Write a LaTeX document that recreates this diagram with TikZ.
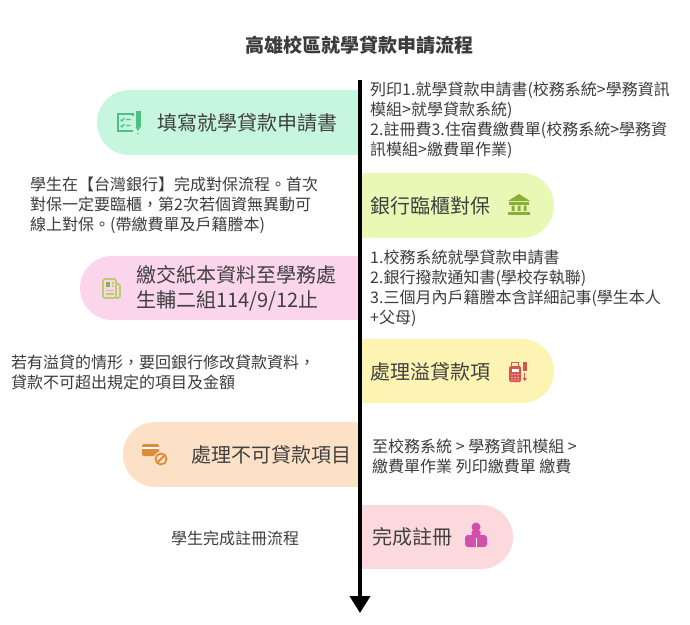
\documentclass[tikz,border=0pt]{standalone}
\usepackage{fontspec}
\setmainfont{Noto Sans CJK TC}
\usetikzlibrary{arrows.meta}
\definecolor{txtc}{HTML}{3C3C3C}
\definecolor{boxtxt}{HTML}{404040}
\definecolor{cgreen}{HTML}{C7F6DE}
\definecolor{cbank}{HTML}{EAF8B6}
\definecolor{cpink}{HTML}{FAD5EC}
\definecolor{cyellow}{HTML}{FDF4B3}
\definecolor{corange}{HTML}{FDE1C6}
\definecolor{cfinal}{HTML}{FCD9DC}
\definecolor{igreen}{HTML}{4FBF83}
\definecolor{ibank}{HTML}{8AAE38}
\definecolor{ipaper}{HTML}{B9D068}
\definecolor{ipaperdark}{HTML}{7FB543}
\definecolor{ired}{HTML}{D9534F}
\definecolor{iorange}{HTML}{E08A3B}
\definecolor{imag}{HTML}{D24FAD}
\begin{document}
\begin{tikzpicture}[x=1pt,y=-1pt,
  smalltext/.style={font=\fontsize{16pt}{20pt}\selectfont, text=txtc, align=left, inner sep=0pt, anchor=west},
  boxtext/.style={font=\fontsize{20pt}{25pt}\selectfont, text=boxtxt, align=left, inner sep=0pt, anchor=west},
  flowarrow/.style={line width=4pt, -{Triangle[width=20pt,length=17pt]}}]
\fill[white] (0,0) rectangle (690,624);
\useasboundingbox (0,0) rectangle (690,624);

% title
\node[font=\bfseries\fontsize{19pt}{22pt}\selectfont, text=txtc] (title) at (359,45) {高雄校區就學貸款申請流程};

% ---- half pills (left side) ----
\fill[cgreen] (129.5,122.5) circle (32.5pt);
\fill[cgreen] (129.5,90) rectangle (360,155);
\fill[cpink] (112,288) circle (32pt);
\fill[cpink] (112,256) rectangle (360,320);
\fill[corange] (155.5,454.5) circle (32.5pt);
\fill[corange] (155.5,422) rectangle (360,487);
% ---- half pills (right side) ----
\fill[cbank] (521.5,205.5) circle (32.5pt);
\fill[cbank] (360,173) rectangle (521.5,238);
\fill[cyellow] (522,371) circle (32pt);
\fill[cyellow] (360,339) rectangle (522,403);
\fill[cfinal] (481,537) circle (32pt);
\fill[cfinal] (360,505) rectangle (481,569);

% ---- box texts ----
\node[boxtext] (s1) at (157,123) {填寫就學貸款申請書};
\node[boxtext] (s2) at (370,206) {銀行臨櫃對保};
\node[boxtext] (s3) at (136,288) {繳交紙本資料至學務處\\生輔二組114/9/12止};
\node[boxtext] (s4) at (370,372) {處理溢貸款項};
\node[boxtext] (s5) at (191,455) {處理不可貸款項目};
\node[boxtext] (s6) at (372,537) {完成註冊};

% ---- notes ----
\node[smalltext] (n1) at (370,120) {列印1.就學貸款申請書(校務系統>學務資訊\\模組>就學貸款系統)\\2.註冊費3.住宿費繳費單(校務系統>學務資\\訊模組>繳費單作業)};
\node[smalltext] (n2) at (30,205) {學生在【台灣銀行】完成對保流程。首次\\對保一定要臨櫃，第2次若個資無異動可\\線上對保。(帶繳費單及戶籍謄本)};
\node[smalltext] (n3) at (370,288) {1.校務系統就學貸款申請書\\2.銀行撥款通知書(學校存執聯)\\3.三個月內戶籍謄本含詳細記事(學生本人\\+父母)};
\node[smalltext] (n4) at (11,372) {若有溢貸的情形，要回銀行修改貸款資料，\\貸款不可超出規定的項目及金額};
\node[smalltext] (n5) at (372,456) {至校務系統 > 學務資訊模組 >\\繳費單作業 列印繳費單 繳費};
\node[smalltext] (n6) at (171,538) {學生完成註冊流程};

% ---- icons ----
% checklist
\draw[igreen, line width=1.5pt] (133,116) -- (133,114) -- (118,114) -- (118,131) -- (133,131);
\draw[igreen, line width=1.2pt] (120.5,119.5) -- (122,121) -- (124.5,118) (126,119.5) -- (130.5,119.5)
  (120.5,125.5) -- (122,127) -- (124.5,124) (126,125.5) -- (130.5,125.5);
\fill[igreen] (135.5,111) rectangle (140.5,127);
\fill[igreen] (135.5,127) -- (140.5,127) -- (138,131) -- cycle;
\fill[igreen] (138,133.5) circle (0.9pt);
% bank
\fill[ibank] (508,201) -- (519,194) -- (530,201) -- cycle;
\fill[ibank] (509,202) rectangle (529,204.5);
\fill[ibank] (511.5,205.5) rectangle (514.5,211) (517.5,205.5) rectangle (520.5,211) (523.5,205.5) rectangle (526.5,211);
\fill[ibank] (508,212) rectangle (530,215);
% newspaper
\draw[ipaper, line width=1.6pt, rounded corners=1.5pt] (103,279) rectangle (116,298);
\draw[ipaper, line width=1.6pt, rounded corners=1.5pt] (116,284) -- (120,284) -- (120,298) -- (116,298);
\fill[ipaperdark] (106,282) rectangle (110,287);
\draw[ipaper, line width=1.3pt] (111.5,283) -- (113.5,283) (111.5,286) -- (113.5,286) (106,290.5) -- (113.5,290.5) (106,294) -- (113.5,294);
% POS terminal
\draw[ired, line width=1.4pt] (511.5,367) -- (511.5,362.5) -- (518.5,362.5) -- (518.5,367);
\fill[ired, rounded corners=1.5pt] (509,366) rectangle (521,382);
\fill[white] (511.5,368.5) rectangle (518.5,371.5);
\foreach \px in {512,515,518} \foreach \py in {374.5,377.5,380} \fill[white] (\px,\py) circle (0.7pt);
\fill[ired] (523,362) rectangle (526.5,371);
\draw[ired, line width=1.2pt, -{Triangle[width=4pt,length=3pt]}] (524.75,373) -- (524.75,381);
% card with no sign
\fill[iorange, rounded corners=1.5pt] (142,444) rectangle (159,456);
\fill[white] (142,447) rectangle (159,449);
\fill[corange] (161,459) circle (7.5pt);
\draw[iorange, line width=1.8pt] (161,459) circle (5.5pt);
\draw[iorange, line width=1.8pt] (157.3,462.7) -- (164.7,455.3);
% reader
\fill[imag] (476,527) circle (4.5pt);
\fill[imag, rounded corners=1.5pt] (471.5,530) rectangle (480.5,536);
\fill[imag, rounded corners=3pt] (465,535) rectangle (487,547);
\draw[white, line width=1pt] (476,537.5) -- (476,547);

% ---- timeline arrow ----
\coordinate (tstart) at (360,80);
\coordinate (tend) at (360,613);
\draw[flowarrow] (tstart) -- (tend);
\end{tikzpicture}
\end{document}
